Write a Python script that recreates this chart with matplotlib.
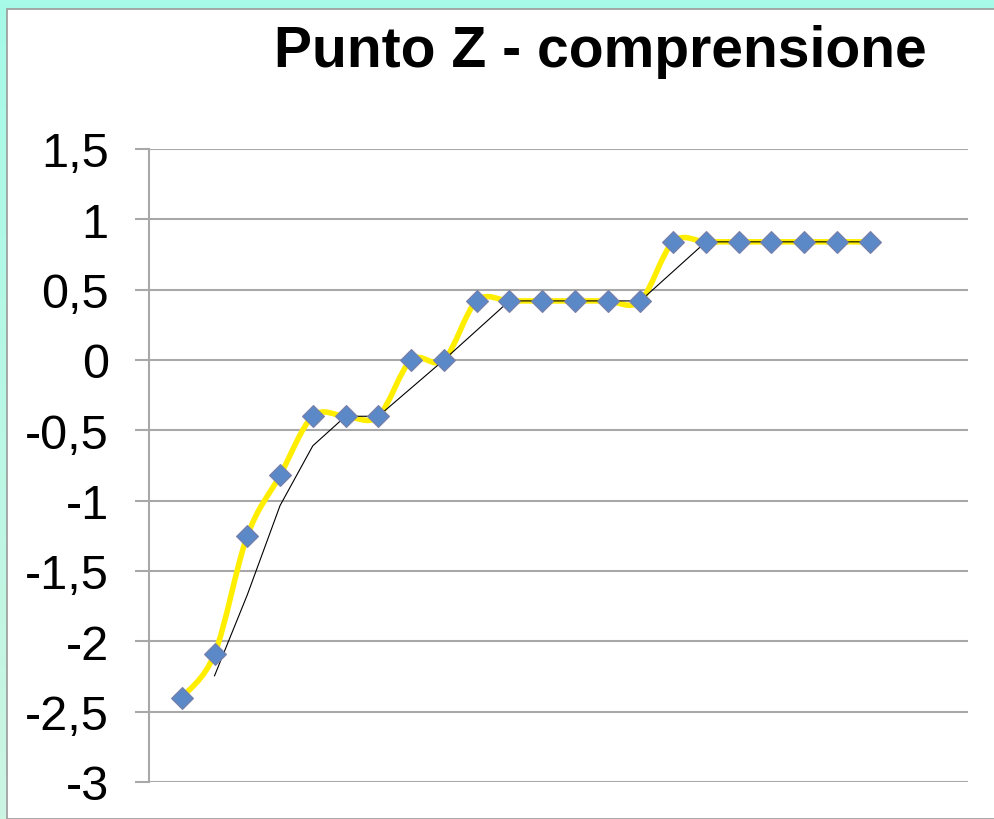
import numpy as np
import matplotlib
matplotlib.use("Agg")
import matplotlib.pyplot as plt
from matplotlib.path import Path
from matplotlib.patches import PathPatch, Rectangle
from matplotlib.ticker import FixedLocator, FuncFormatter

# ---- data ----
title = "Punto Z - comprensione"
x_pos = list(range(1, 23))
z_values = [-2.40, -2.09, -1.25, -0.82, -0.40, -0.40, -0.40, 0.00, 0.00, 0.42,
            0.42, 0.42, 0.42, 0.42, 0.42, 0.84, 0.84, 0.84, 0.84, 0.84, 0.84, 0.84]
y_ticks = [-3, -2.5, -2, -1.5, -1, -0.5, 0, 0.5, 1, 1.5]
ma_period = 2

W, H, DPI = 995, 820, 100
fig = plt.figure(figsize=(W / DPI, H / DPI), dpi=DPI)
fig.patch.set_facecolor("#a8f8e6")

# background gradient (aquamarine border, lighter toward bottom)
bg = fig.add_axes([0, 0, 1, 1], zorder=-10)
grad = np.linspace(0, 1, 256).reshape(-1, 1)
c_top = np.array([0xa6, 0xfa, 0xe8]) / 255
c_bot = np.array([0xcc, 0xf5, 0xe2]) / 255
img = c_top[None, None, :] * (1 - grad[:, :, None]) + c_bot[None, None, :] * grad[:, :, None]
bg.imshow(img, aspect="auto", extent=[0, 1, 0, 1], origin="upper")
bg.add_patch(Rectangle((7.5 / W, 0), 1, 1 - 10 / H, facecolor="white",
                       edgecolor="#9a9a9a", linewidth=1.2, transform=bg.transAxes))
bg.set_xlim(0, 1); bg.set_ylim(0, 1)
bg.axis("off")

ax = fig.add_axes([149 / W, (H - 783) / H, (968 - 149) / W, (783 - 150) / H])
ax.set_facecolor("none")
ax.set_xlim(0, 25)
ax.set_ylim(-3, 1.5)

# smoothed line (Bezier through points, Excel-like)
xs = np.array(x_pos, float)
ys = np.array(z_values, float)
n = len(xs)
verts = [(xs[0], ys[0])]
codes = [Path.MOVETO]
for i in range(n - 1):
    p0 = np.array([xs[max(i - 1, 0)], ys[max(i - 1, 0)]])
    p1 = np.array([xs[i], ys[i]])
    p2 = np.array([xs[i + 1], ys[i + 1]])
    p3 = np.array([xs[min(i + 2, n - 1)], ys[min(i + 2, n - 1)]])
    c1 = p1 + (p2 - p0) / 6
    c2 = p2 - (p3 - p1) / 6
    verts += [tuple(c1), tuple(c2), tuple(p2)]
    codes += [Path.CURVE4] * 3
ax.add_patch(PathPatch(Path(verts, codes), facecolor="none", edgecolor="#ffee00",
                       linewidth=4.0, zorder=3, capstyle="round", joinstyle="round"))

# moving average trendline
ma = [np.mean(z_values[i - ma_period + 1:i + 1]) for i in range(ma_period - 1, n)]
ax.plot(x_pos[ma_period - 1:], ma, color="black", linewidth=0.8, zorder=4)

ax.plot(x_pos, z_values, linestyle="none", marker="D", markersize=11.5,
        markerfacecolor="#5b88c6", markeredgecolor="#7a7fa8", markeredgewidth=0.8, zorder=5)

ax.yaxis.set_major_locator(FixedLocator(y_ticks))
ax.yaxis.set_major_formatter(FuncFormatter(lambda v, p: ("%g" % v).replace(".", ",")))
ax.set_xticks([])
ax.grid(axis="y", color="#a8a8a8", linewidth=1.5)
ax.set_axisbelow(True)
for s in ["top", "right", "bottom"]:
    ax.spines[s].set_visible(False)
ax.spines["left"].set_color("#a8a8a8")
ax.spines["left"].set_linewidth(1.5)
ax.tick_params(axis="y", direction="out", length=10, width=1.5, color="#a8a8a8",
               pad=19, labelsize=35, labelcolor="black")
for lab in ax.get_yticklabels():
    lab.set_fontfamily("Liberation Sans")

fig.text(600 / W, 1 - 52 / H, title, ha="center", va="center", fontsize=41,
         fontweight="bold", family="Liberation Sans")

fig.savefig("out.png", dpi=DPI)
